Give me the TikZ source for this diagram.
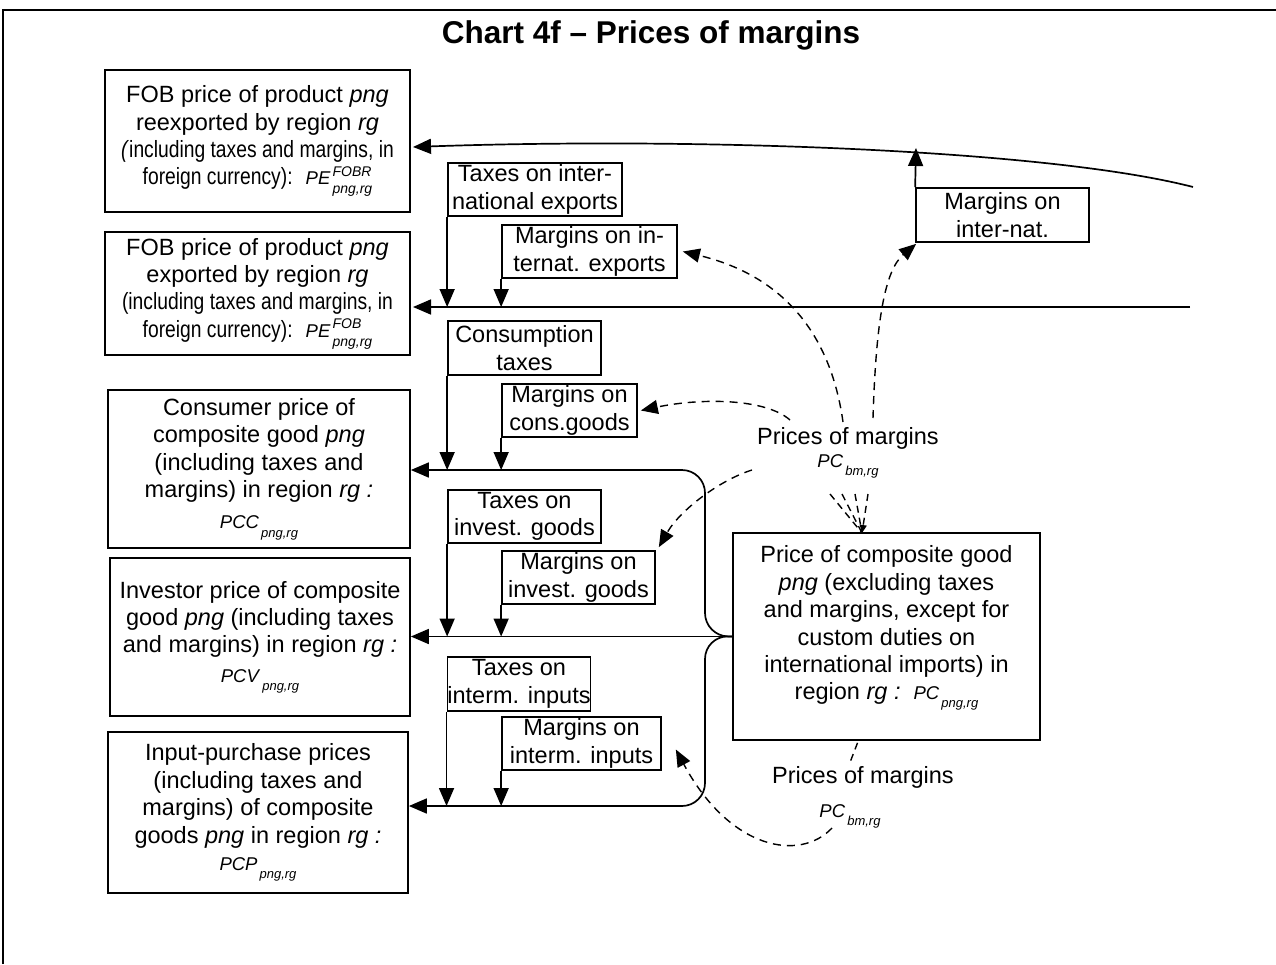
\documentclass[tikz,border=0pt]{standalone}
\usepackage{fontspec}
\setmainfont{Liberation Sans}
\usepackage{graphicx}
\usetikzlibrary{arrows.meta,calc}
% base with stacked super/subscript
\newcommand\frm[4][13]{\textit{#2}\hspace{2pt}\begingroup\fontsize{#1}{#1}\selectfont\itshape\rlap{\raisebox{0.62em}{#3}}\raisebox{-0.62em}{#4}\endgroup}
\newcommand\nrw[1]{\scalebox{0.82}[1]{#1}}
\newcommand\fsm{\fontsize{18.5}{22}\selectfont}
\begin{document}
\begin{tikzpicture}[x=1pt,y=-1pt,
  font={\fontsize{23.5}{27.4}\selectfont},
  box/.style={draw, line width=1.7pt, align=center, inner sep=0pt},
  arr/.style={line width=1.7pt, -{Triangle[length=18pt,width=15pt]}},
  darr/.style={line width=1.4pt, dash pattern=on 8pt off 6pt, -{Triangle[length=17pt,width=14pt]}},
  dln/.style={line width=1.4pt, dash pattern=on 7pt off 5pt},
  lab/.style={inner sep=0pt, align=center}]
\useasboundingbox (0,0) rectangle (1276,964);
% frame
\draw[line width=2pt] (3,964) -- (3,10) -- (1276,10);
\node[lab, font={\fontsize{31.5}{34}\selectfont\bfseries}] (title) at (651,35) {Chart 4f -- Prices of margins};
% left boxes
\node[box, minimum width=305pt, minimum height=142pt] (A) at (257.5,141)
 {FOB price of product \textit{png}\\ reexported by region \textit{rg}\\ \nrw{\textit{(}including taxes and margins, in}\\ \nrw{foreign currency):}\ \ {\fsm\frm[14]{PE}{FOBR}{png,rg}}};
\node[box, minimum width=305pt, minimum height=123pt] (B) at (257.5,293.5)
 {FOB price of product \textit{png}\\ exported by region \textit{rg}\\ \nrw{(including taxes and margins, in}\\ \nrw{foreign currency):}\ \ {\fsm\frm[14]{PE}{FOB}{png,rg}}};
\node[box, minimum width=302pt, minimum height=158pt] (C) at (259,469)
 {Consumer price of\\ composite good \textit{png}\\ (including taxes and\\ margins) in region \textit{rg :}\\[4pt] {\fsm\frm{PCC}{}{png,rg}}};
\node[box, minimum width=300pt, minimum height=158pt] (D) at (260,637)
 {Investor price of composite\\ good \textit{png} (including taxes\\ and margins) in region \textit{rg :}\\[2pt] {\fsm\frm{PCV}{}{png,rg}}};
\node[box, minimum width=300pt, minimum height=161pt] (E) at (258,812.5)
 {Input-purchase prices\\ (including taxes and\\ margins) of composite\\ goods \textit{png} in region \textit{rg :}\\[0pt] {\fsm\frm{PCP}{}{png,rg}}};
% small boxes
\node[box, minimum width=174pt, minimum height=53pt] (t1) at (535,189.5) {Taxes on inter-\\national exports};
\node[box, minimum width=175pt, minimum height=53pt] (m1) at (589.5,251.5) {Margins on in-\\ternat. exports};
\node[box, minimum width=153pt, minimum height=54pt] (t2) at (524.5,348) {Consumption\\taxes};
\node[box, minimum width=135pt, minimum height=53pt] (m2) at (569.5,410.5) {Margins on\\cons.goods};
\node[box, minimum width=153pt, minimum height=53pt] (t3) at (524.5,516.5) {Taxes on\\invest. goods};
\node[box, minimum width=153pt, minimum height=53pt] (m3) at (578.5,577.5) {Margins on\\invest. goods};
\node[box, minimum width=142pt, minimum height=54pt] (t4) at (519,684) {Taxes on\\interm. inputs};
\node[box, minimum width=159pt, minimum height=53pt] (m4) at (581.5,743.5) {Margins on\\interm. inputs};
\node[box, minimum width=173pt, minimum height=54pt] (mn) at (1002.5,215) {Margins on\\inter-nat.};
\node[box, minimum width=307pt, minimum height=207pt] (P) at (886.5,636.5)
 {Price of composite good\\ \textit{png} (excluding taxes\\ and margins, except for\\ custom duties on\\ international imports) in\\ region \textit{rg :}\ \ {\fsm\frm{PC}{}{png,rg}}\\[0pt]};
% labels
\node[lab] (pm1) at (848,438) {Prices of margins};
\node[lab] (pc1) at (848,466) {\fsm\frm{PC}{}{bm,rg}};
\node[lab] (pm2) at (863,777) {Prices of margins};
\node[lab] (pc2) at (850,816) {\fsm\frm{PC}{}{bm,rg}};
% coordinates
\coordinate (ts) at (1193,187);
\coordinate (te) at (413,147);
\coordinate (tj) at (916,148);
\coordinate (fs) at (1190,307);
\coordinate (fe) at (413,307);
\coordinate (jn) at (705,636);
\coordinate (pt) at (862,533);
% top curve (re-exports)
\draw[arr] (ts) .. controls (1050,150) and (700,137) .. (te);
\draw[arr] (mn.north west) -- (tj);
% export line
\draw[arr] (fs) -- (fe);
\draw[arr] (t1.south west) -- (t1.south west |- fe);
\draw[arr] (m1.south west) -- (m1.south west |- fe);
% brace
\draw[arr, rounded corners=23pt] (P.west) -- (jn) -- (705,470) -- (C.east |- 0,470) ;
\draw[arr] (P.west) -- (D.east |- P.west);
\draw[arr, rounded corners=23pt] (P.west) -- (jn) -- (705,806) -- (E.east |- 0,806);
\draw[arr] (t2.south west) -- (t2.south west |- 0,470);
\draw[arr] (m2.south west) -- (m2.south west |- 0,470);
\draw[arr] (t3.south west) -- (t3.south west |- P.west);
\draw[arr] (m3.south west) -- (m3.south west |- P.west);
\draw[arr] (t4.south west) -- (t4.south west |- 0,806);
\draw[arr] (m4.south west) -- (m4.south west |- 0,806);
% dashed
\draw[darr] (790,420) .. controls (765,398) and (700,398) .. ($(m2.east)+(3,0)$);
\draw[darr] (752,470) .. controls (720,480) and (680,510) .. ($(m3.north east)+(3,-3)$);
\draw[darr] (843,422) .. controls (830,330) and (780,275) .. ($(m1.east)+(5,0)$);
\draw[darr] (873,418) .. controls (876,320) and (885,270) .. ($(mn.south west)+(1,1)$);
\draw[dln] (830,494) -- (pt);
\draw[dln] (842,494) -- (pt);
\draw[dln] (855,494) -- (pt);
\draw[dln, -{Triangle[length=8pt,width=7pt]}] (868,494) -- (pt);
\draw[dln] (P.south) ++(-29,2) -- (849,765);
\draw[darr] (832,828) .. controls (800,862) and (730,850) .. ($(m4.east)+(14,6)$);
\end{tikzpicture}
\end{document}
